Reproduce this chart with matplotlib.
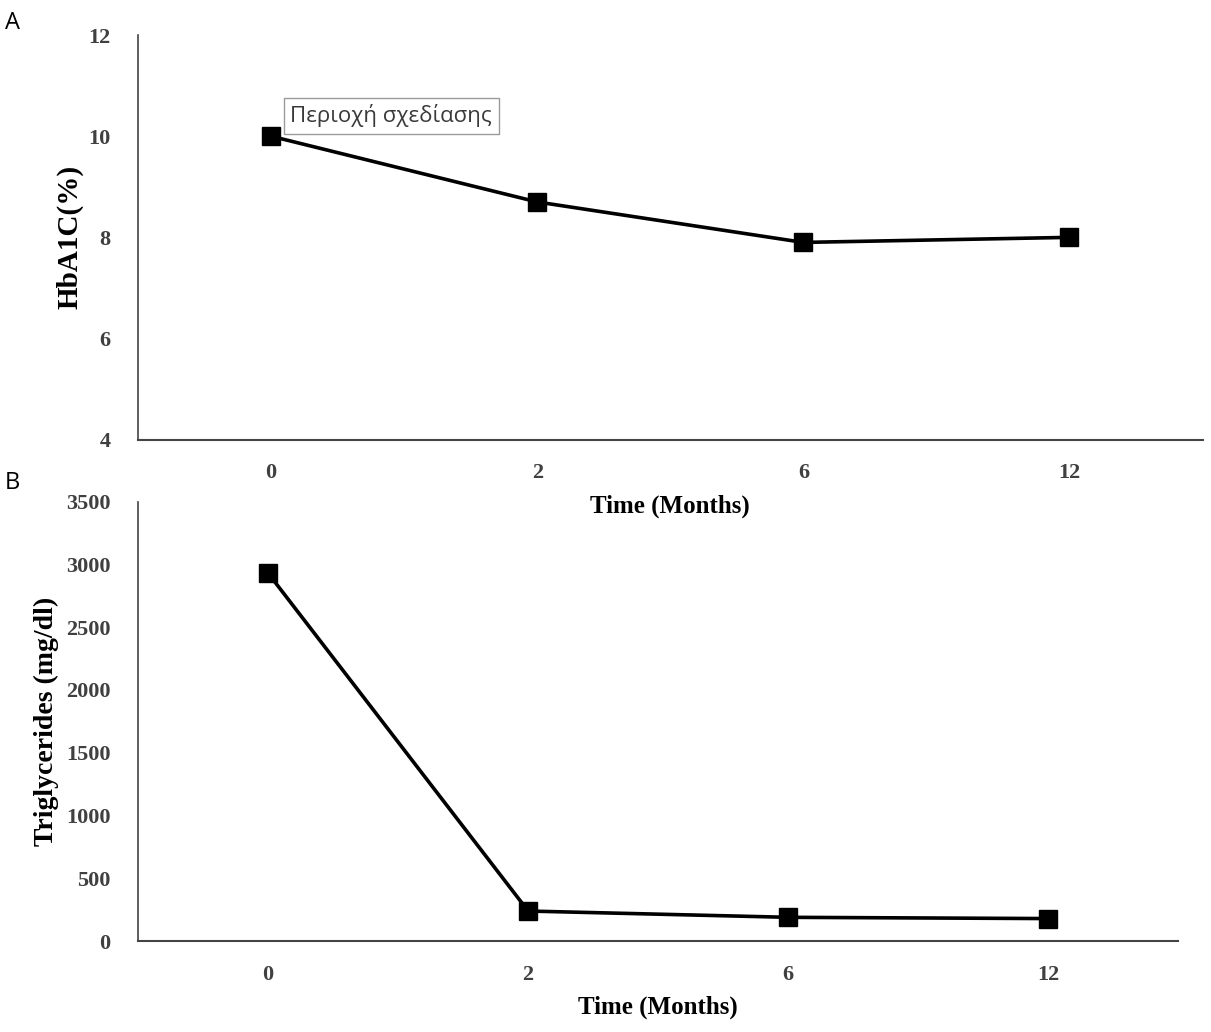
import matplotlib
matplotlib.use("Agg")
import matplotlib.pyplot as plt
import numpy as np

months = ["0", "2", "6", "12"]
hba1c = [10.0, 8.7, 7.9, 8.0]
trig = [2930, 240, 190, 180]
hba1c_ticks = [4, 6, 8, 10, 12]
trig_ticks = [0, 500, 1000, 1500, 2000, 2500, 3000, 3500]

serif = "Liberation Serif"
tick_col = "#404040"

fig = plt.figure(figsize=(12.11, 10.32), dpi=100)
ax1 = fig.add_axes([0.114, 0.574, 0.879, 0.392])
ax2 = fig.add_axes([0.114, 0.088, 0.859, 0.426])
ax2.patch.set_visible(False)

x = np.arange(len(months))

def style(ax, yticks, ylabel, ysize, ypad):
    for s in ["top", "right"]:
        ax.spines[s].set_visible(False)
    ax.spines["left"].set_color("#444444")
    ax.spines["bottom"].set_color("#444444")
    ax.spines["left"].set_linewidth(1.2)
    ax.spines["bottom"].set_linewidth(1.5)
    ax.set_xlim(-0.5, 3.5)
    ax.set_xticks(x)
    ax.set_xticklabels(months)
    ax.set_yticks(yticks)
    ax.set_ylim(yticks[0], yticks[-1])
    ax.tick_params(length=0, pad=17)
    ax.tick_params(axis="y", pad=20)
    for lab in ax.get_xticklabels() + ax.get_yticklabels():
        lab.set_fontfamily(serif)
        lab.set_fontweight("bold")
        lab.set_fontsize(16)
        lab.set_color(tick_col)
    ax.set_xlabel("Time (Months)", fontfamily=serif, fontweight="bold", fontsize=18, labelpad=8)
    ax.set_ylabel(ylabel, fontfamily=serif, fontweight="bold", fontsize=ysize, labelpad=ypad)

ax1.plot(x, hba1c, color="black", lw=2.6, marker="s", markersize=13)
style(ax1, hba1c_ticks, "HbA1C(%)", 21, 3)

ax2.plot(x, trig, color="black", lw=2.6, marker="s", markersize=13)
style(ax2, trig_ticks, "Triglycerides (mg/dl)", 20, 5)

ax1.text(0.143, 0.80, "Περιοχή σχεδίασης", transform=ax1.transAxes,
         fontfamily="Open Sans", fontsize=16, color="#3a3a3a", va="center", ha="left",
         bbox=dict(boxstyle="square,pad=0.3", fc="white", ec="#9a9a9a", lw=1))

fig.text(0.004, 0.978, "A", fontfamily="Open Sans", fontsize=17, va="center")
fig.text(0.004, 0.532, "B", fontfamily="Open Sans", fontsize=17, va="center")

fig.savefig("out.png", dpi=100)
